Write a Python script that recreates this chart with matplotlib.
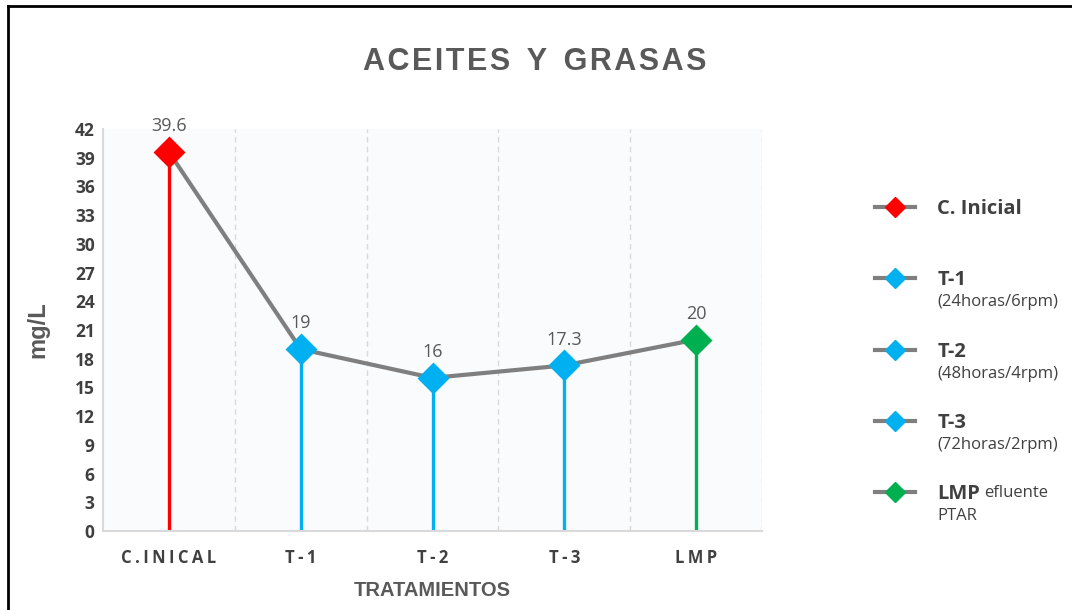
#!/usr/bin/env python3
"""
Aceites y grasas - concentracion por tratamiento
"""

import matplotlib
matplotlib.use('Agg')
import matplotlib.pyplot as plt
from matplotlib.lines import Line2D

categories = ['C.INICAL', 'T-1', 'T-2', 'T-3', 'LMP']
values = [39.6, 19, 16, 17.3, 20]
value_labels = ['39.6', '19', '16', '17.3', '20']
point_colors = ['#FF0000', '#00B0F0', '#00B0F0', '#00B0F0', '#00B050']
legend_names = ['C. Inicial', 'T-1', 'T-2', 'T-3', 'LMP']
legend_notes = ['', '(24horas/6rpm)', '(48horas/4rpm)', '(72horas/2rpm)', 'PTAR']
y_ticks = list(range(0, 43, 3))

LINE_GRAY = '#7F7F7F'
TEXT_GRAY = '#595959'
TICK_GRAY = '#404040'
FAM = ['Open Sans', 'DejaVu Sans']
ARIAL = ['Liberation Sans', 'DejaVu Sans']

W, H = 1072, 610


def spaced(s, sep='\u2009'):
    return sep.join(s)


fig = plt.figure(figsize=(W / 100, H / 100), dpi=100)
ax = fig.add_axes([103 / W, 1 - 531 / H, (762 - 103) / W, (531 - 129) / H])
ax.set_facecolor('#FAFBFD')

x = list(range(len(categories)))

# drop lines, connecting line, markers
ax.vlines(x, 0, values, colors=point_colors, linewidth=2.4, zorder=2)
ax.plot(x, values, color=LINE_GRAY, linewidth=3, zorder=3)
for xi, v, c, lab in zip(x, values, point_colors, value_labels):
    ax.plot(xi, v, marker='D', markersize=14, color=c, markeredgecolor=c,
            markeredgewidth=2, markerfacecolor=c, linestyle='none', zorder=4)
    ax.annotate(lab, (xi, v), xytext=(0, 12), textcoords='offset points',
                ha='center', va='bottom', fontsize=13, color=TEXT_GRAY, family=FAM)

ax.set_xlim(-0.5, len(categories) - 0.5)
ax.set_ylim(0, 42)
ax.set_yticks(y_ticks)
ax.set_yticklabels([str(t) for t in y_ticks], fontsize=12.5, fontweight='bold',
                   color=TICK_GRAY, family=FAM)
ax.set_xticks(x)
ax.set_xticklabels([spaced(c) for c in categories], fontsize=12, fontweight='bold',
                   color=TICK_GRAY, family=FAM)
ax.tick_params(length=0)
ax.tick_params(axis='x', pad=13)
ax.tick_params(axis='y', pad=6)

# vertical dashed separators between categories
for b in [i + 0.5 for i in x]:
    ax.axvline(b, color='#D9D9D9', linestyle='--', linewidth=1, dashes=(4, 3), zorder=1)

for s in ['top', 'right']:
    ax.spines[s].set_visible(False)
for s in ['left', 'bottom']:
    ax.spines[s].set_color('#D9D9D9')
    ax.spines[s].set_linewidth(1.5)

ax.set_ylabel('mg/L', fontsize=17, fontweight='bold', color=TEXT_GRAY, family=ARIAL, labelpad=18)
ax.set_xlabel('TRATAMIENTOS', fontsize=14.5, fontweight='bold', color=TEXT_GRAY,
              family=ARIAL, labelpad=10)

fig.text(535 / W, 1 - 62 / H, spaced('ACEITES', '\u200a') + '  ' + 'Y' + '  ' + spaced('GRASAS', '\u200a'),
         ha='center', va='center', fontsize=22, fontweight='bold', color=TEXT_GRAY, family=ARIAL)

# legend
handles = [Line2D([0], [0], color=LINE_GRAY, linewidth=3, marker='D', markersize=10,
                  markerfacecolor=c, markeredgecolor=c) for c in point_colors]
leg = fig.legend(handles, legend_names, loc='upper left',
                 bbox_to_anchor=(875 / W, 1 - 199 / H), frameon=False,
                 borderpad=0, borderaxespad=0, handlelength=2.0, handletextpad=1.1,
                 labelspacing=2.55, prop={'family': FAM, 'weight': 'bold', 'size': 14.5})
for t in leg.get_texts():
    t.set_color(TICK_GRAY)

# notes under legend labels, placed from the rendered label positions
fig.canvas.draw()
inv = fig.transFigure.inverted()
for t, note, name in zip(leg.get_texts(), legend_notes, legend_names):
    bb = t.get_window_extent().transformed(inv)
    if name == 'LMP':
        fig.text(bb.x1 + 4 / W, bb.y0 + 3 / H, 'efluente', ha='left', va='bottom',
                 fontsize=12, color=TICK_GRAY, family=FAM)
    if note:
        fig.text(bb.x0, bb.y0 - 4 / H, note, ha='left', va='top',
                 fontsize=12, color=TICK_GRAY, family=FAM)

# outer frame (left and top edges visible)
fig.add_artist(Line2D([7.5 / W, 7.5 / W], [0, 1 - 6 / H], color='black',
                      linewidth=2, transform=fig.transFigure))
fig.add_artist(Line2D([7.5 / W, 1], [1 - 6 / H, 1 - 6 / H], color='black',
                      linewidth=2, transform=fig.transFigure))

fig.savefig('out.png', dpi=100, facecolor='white')
